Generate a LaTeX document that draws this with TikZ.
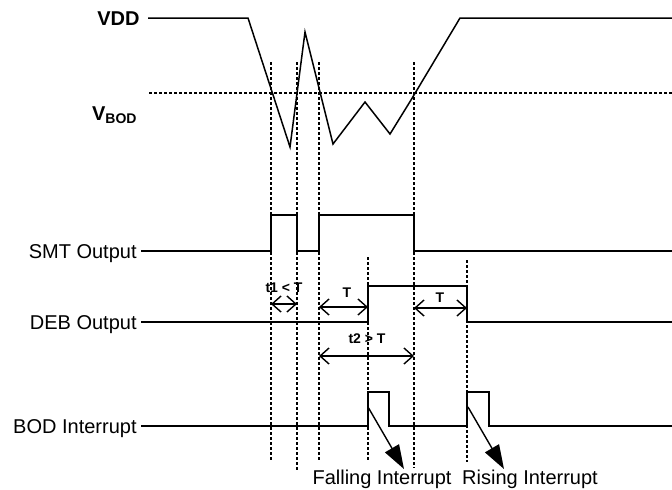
\documentclass[tikz,border=0pt]{standalone}
\usepackage{fontspec}
\setmainfont{Liberation Sans}
\usetikzlibrary{arrows.meta}

\begin{document}
\begin{tikzpicture}[
  x=0.5pt, y=-0.5pt,
  wave/.style={line width=0.75pt, line join=miter},
  guide/.style={line width=0.6pt, dash pattern=on 1.5pt off 1pt},
  sig/.style={anchor=east, inner sep=2pt, text depth=0pt, text height=7.2pt, font=\fontsize{10}{12}\selectfont},
  dim/.style={<->, >={Straight Barb[length=4.5pt, width=8pt]}, line width=0.7pt},
  dimlab/.style={font=\fontsize{7}{8}\selectfont\bfseries, inner sep=0pt, text depth=0pt, text height=5pt},
  irq/.style={-{Triangle[length=12pt, width=8pt]}, line width=0.7pt},
  irqlab/.style={font=\fontsize{10}{12}\selectfont, inner sep=0pt, text depth=0pt, text height=7.2pt}
]
\useasboundingbox (0,0) rectangle (672,489);

% Signal names
\node[sig, font=\fontsize{10}{12}\selectfont\bfseries, inner xsep=4pt] (vdd) at (148,18) {VDD};
\node[sig, font=\fontsize{10}{12}\selectfont\bfseries] (vbod) at (142,113) {V\textsubscript{BOD}};
\node[sig] (smt) at (141,251) {SMT Output};
\node[sig] (deb) at (141,322) {DEB Output};
\node[sig] (bod) at (141,426) {BOD Interrupt};

% Threshold and supply
\draw[guide] (149,93) -- (672,93);
\draw[wave] (vdd.east) -- (248,18) -- (290,147) -- (305,32) -- (333,144) -- (365,102)
  -- (390,134) -- (411,100) -- (460,18) -- (672,18);

% Time markers
\foreach \x/\ya/\yb in {271/62/462, 297/62/472, 319/62/462, 414/62/468, 368/257/462, 467/260/462}
  \draw[guide] (\x,\ya) -- (\x,\yb);

% Outputs
\draw[wave] (smt.east) -- (271,251) |- (297,215) |- (319,251) |- (414,215) |- (672,251);
\draw[wave] (deb.east) -- (368,322) |- (467,286) |- (672,322);
\draw[wave] (bod.east) -- (368,426) |- (389,392) |- (467,426) |- (489,392) |- (672,426);

% Debounce times
\draw[dim] (271,304) -- (297,304);
\node[dimlab] (t1) at (284,287) {t1 < T};
\draw[dim] (319,307) -- (368,307);
\node[dimlab] (tfall) at (347,292) {T};
\draw[dim] (414,308) -- (467,308);
\node[dimlab] (trise) at (440,297) {T};
\draw[dim] (319,356) -- (414,356);
\node[dimlab] (t2) at (367,338) {t2 > T};

% Interrupts
\draw[irq] (368,407) -- (404,469);
\draw[irq] (468,407) -- (504,469);
\node[irqlab] (fall) at (382,477) {Falling Interrupt};
\node[irqlab] (rise) at (530,477) {Rising Interrupt};

\end{tikzpicture}
\end{document}
